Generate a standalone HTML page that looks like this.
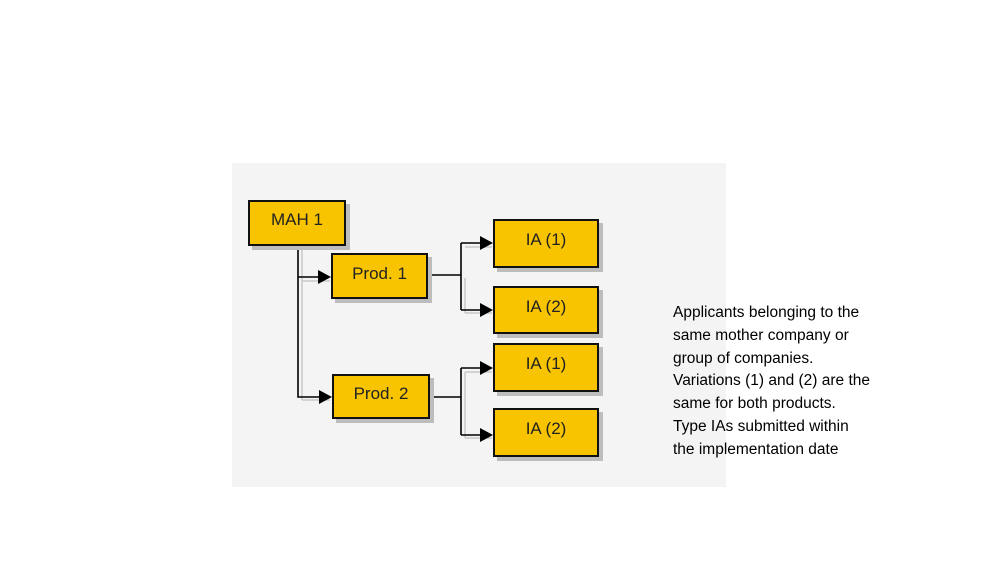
<!DOCTYPE html>
<html><head><style>
body{margin:0;width:1000px;height:563px;background:#fff;position:relative;overflow:hidden;font-family:"Liberation Sans",sans-serif}
.panel{position:absolute;left:232px;top:163px;width:494px;height:324px;background:#f4f4f4}
.b{position:absolute;background:#f8c400;border:2px solid #111;box-sizing:border-box;box-shadow:4px 4px 0 #bdbdbd;color:#222;font-size:17px;text-align:center}
.t{position:absolute;left:673px;top:302px;font-size:15.5px;line-height:22.8px;color:#000}
</style></head><body>
<div class="panel"></div>
<svg style="position:absolute;left:0;top:0" width="1000" height="563">
<g stroke="#c8c8c8" stroke-width="1.5" fill="none">
<path d="M302 246V400M302 281H330M302 400H330M465 278V313M465 247H492M465 313H492M465 400V372V438M465 372H492M465 438H492"/>
</g>
<g stroke="#000" stroke-width="1.6" fill="none">
<path d="M298 246V397H320M298 277H320M428 275H461M461 243V310M461 243H482M461 310H482M430 397H461M461 368V435M461 368H482M461 435H482"/>
</g>
<g fill="#000">
<path d="M331 277l-13-7v14z"/><path d="M332 397l-13-7v14z"/>
<path d="M493 243l-13-7v14z"/><path d="M493 310l-13-7v14z"/>
<path d="M493 368l-13-7v14z"/><path d="M493 435l-13-7v14z"/>
</g>
</svg>
<div class="b" style="left:248px;top:200px;width:98px;height:46px;line-height:36px">MAH 1</div>
<div class="b" style="left:331px;top:253px;width:97px;height:46px;line-height:38px">Prod. 1</div>
<div class="b" style="left:332px;top:374px;width:98px;height:45px;line-height:36px">Prod. 2</div>
<div class="b" style="left:493px;top:219px;width:106px;height:49px;line-height:38px">IA (1)</div>
<div class="b" style="left:493px;top:286px;width:106px;height:48px;line-height:38px">IA (2)</div>
<div class="b" style="left:493px;top:343px;width:106px;height:49px;line-height:38px">IA (1)</div>
<div class="b" style="left:493px;top:408px;width:106px;height:49px;line-height:38px">IA (2)</div>
<div class="t">Applicants belonging to the<br>same mother company or<br>group of companies.<br>Variations (1) and (2) are the<br>same for both products.<br>Type IAs submitted within<br>the implementation date</div>
</body></html>
